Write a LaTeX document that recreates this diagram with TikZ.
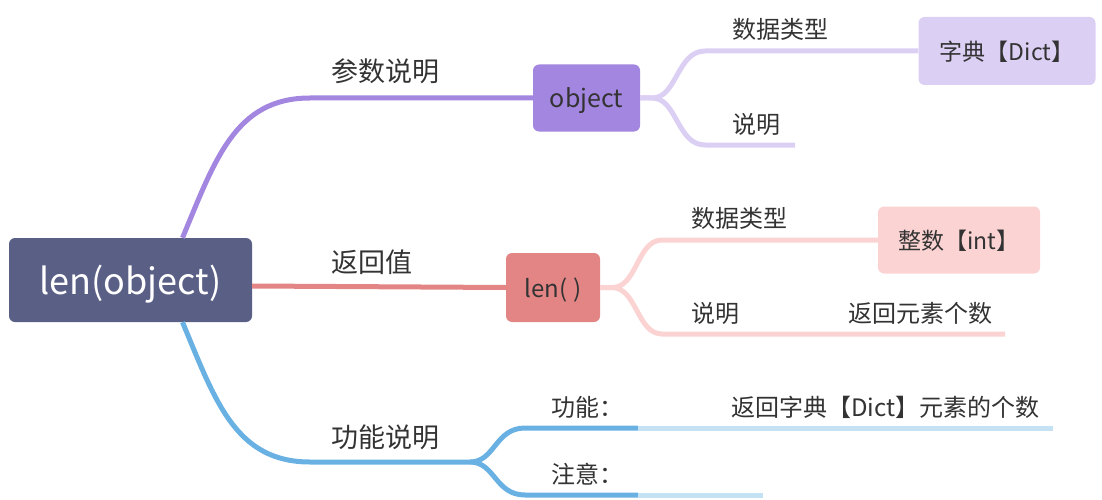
\documentclass[tikz,border=0pt]{standalone}
\usepackage{fontspec}
\setmainfont{Noto Sans CJK SC}
\definecolor{rootblue}{HTML}{5A5F86}
\definecolor{purplemain}{HTML}{A386E0}
\definecolor{purplelight}{HTML}{DCCFF4}
\definecolor{redmain}{HTML}{E38585}
\definecolor{redlight}{HTML}{FCD3D3}
\definecolor{bluemain}{HTML}{6AB1E3}
\definecolor{bluelight}{HTML}{C5E2F4}
\definecolor{textgray}{HTML}{333333}
\begin{document}
\begin{tikzpicture}[x=1pt, y=-1pt,
    topic/.style={rectangle, rounded corners=6pt, inner sep=0pt, text depth=0pt, text=textgray},
    branch/.style={line width=5pt},
    branchtext/.style={inner sep=0pt, text=textgray, font=\fontsize{27}{30}\selectfont},
    leaftext/.style={inner sep=0pt, text=textgray, font=\fontsize{24}{28}\selectfont}
]
    \useasboundingbox (0,0) rectangle (1102,500);

    \node[topic, fill=rootblue, text=white, minimum width=243pt, minimum height=84pt, font=\fontsize{36}{40}\selectfont] (root) at (130.5,280) {len(object)};

    \node[topic, fill=purplemain, minimum width=107pt, minimum height=67pt, font=\fontsize{25}{28}\selectfont] (object) at (586.5,98) {object};
    \node[topic, fill=purplelight, minimum width=177pt, minimum height=68pt, font=\fontsize{23}{26}\selectfont] (dict) at (1007,51) {字典【Dict】};

    \node[topic, fill=redmain, minimum width=94pt, minimum height=69pt, font=\fontsize{24}{27}\selectfont] (lenn) at (553,287.5) {len( )};
    \node[topic, fill=redlight, minimum width=162pt, minimum height=67pt, font=\fontsize{23}{26}\selectfont] (intn) at (959,240) {整数【int】};

    \coordinate (objdesc) at (795,145);
    \coordinate (lendesc) at (1005,334);
    \coordinate (fork) at (470,462);
    \coordinate (func) at (638,428);
    \coordinate (funcend) at (1053,428);
    \coordinate (note) at (638,495);
    \coordinate (noteend) at (763,495);

    \draw[branch, purplemain] ([xshift=52pt]root.north) .. controls (215,160) and (235,98) .. (310,98) -- (object.west);
    \draw[branch, redmain] ([yshift=-6pt]root.east) -- (lenn.west);
    \draw[branch, bluemain] ([xshift=52pt]root.south) .. controls (215,400) and (235,462) .. (310,462) -- (fork);

    \draw[branch, purplelight] (object.east) -- ++(12,0) .. controls (677,98) and (677,51) .. (705,51) -- (dict.west);
    \draw[branch, purplelight] (object.east) -- ++(12,0) .. controls (677,98) and (677,145) .. (705,145) -- (objdesc);

    \draw[branch, redlight] (lenn.east) -- ++(12,0) .. controls (637,288) and (637,240) .. (662,240) -- (intn.west);
    \draw[branch, redlight] (lenn.east) -- ++(12,0) .. controls (637,288) and (637,334) .. (662,334) -- (lendesc);

    \draw[branch, bluemain] (fork) .. controls (495,462) and (495,428) .. (525,428) -- (func);
    \draw[branch, bluemain] (fork) .. controls (495,462) and (495,495) .. (525,495) -- (note);
    \draw[branch, bluelight] (func) -- (funcend);
    \draw[branch, bluelight] (note) -- (noteend);

    \node[branchtext, anchor=west] (argtitle) at (331,71) {参数说明};
    \node[branchtext, anchor=west] (rettitle) at (331,262) {返回值};
    \node[branchtext, anchor=west] (functitle) at (331,437) {功能说明};

    \node[leaftext, anchor=west] (objtype) at (732,29) {数据类型};
    \node[leaftext, anchor=west] (objnote) at (732,124) {说明};
    \node[leaftext, anchor=west] (lentype) at (691,218) {数据类型};
    \node[leaftext, anchor=west] (lennote) at (691,313) {说明};
    \node[leaftext, anchor=west] (lenval) at (848,313) {返回元素个数};
    \node[leaftext, anchor=west] (funclabel) at (551,407) {功能：};
    \node[leaftext, anchor=west] (funcval) at (731,407) {返回字典【Dict】元素的个数};
    \node[leaftext, anchor=west] (notelabel) at (551,474) {注意：};
\end{tikzpicture}
\end{document}
